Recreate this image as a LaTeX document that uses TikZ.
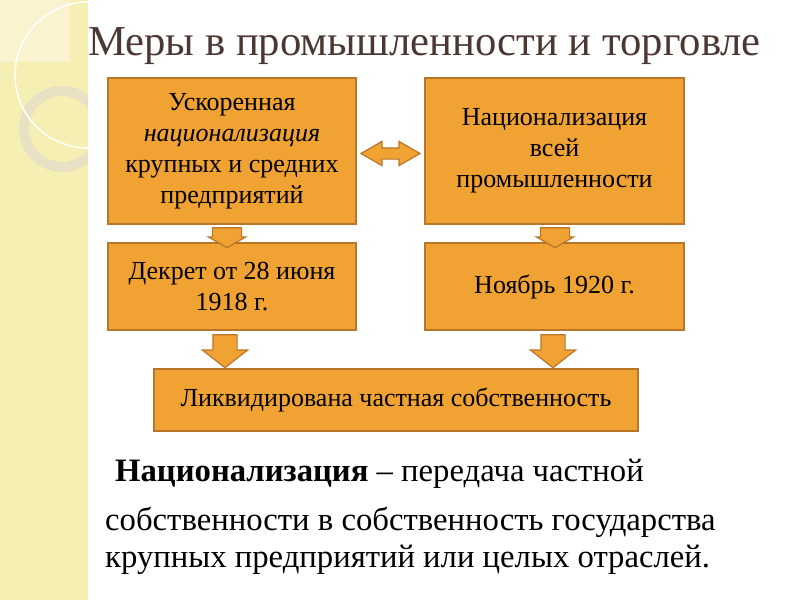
\documentclass[tikz,border=0pt]{standalone}
\usepackage{fontspec}
\setmainfont{Liberation Serif}
\usetikzlibrary{shapes.arrows}
\definecolor{Orng}{HTML}{F0A232}
\definecolor{OrngLine}{HTML}{BA7628}
\definecolor{TitleBrown}{HTML}{4B3832}
\definecolor{Strip}{HTML}{F6EFB4}
\definecolor{StripLight}{HTML}{F9F4CF}
\definecolor{Ring}{HTML}{E8E1C4}

\begin{document}
\begin{tikzpicture}[x=1pt,y=-1pt,
  box/.style={draw=OrngLine,line width=1.4pt,fill=Orng,inner sep=4pt,align=center,
    font=\fontsize{26}{31}\selectfont},
  downarr/.style={single arrow,draw=OrngLine,line width=1.2pt,fill=Orng,inner ysep=0pt,
    shape border rotate=270},
  downsmall/.style={downarr,minimum height=20,inner xsep=14pt,
    single arrow head extend=4,single arrow tip angle=120},
  downbig/.style={downarr,minimum height=33,inner xsep=11.5pt,
    single arrow head extend=10.5,single arrow tip angle=104}]
  \useasboundingbox (0,0) rectangle (800,600);
  % left strip
  \fill[Strip] (0,0) rectangle (88,600);
  \fill[StripLight] (0,0) rectangle (70,62);
  \begin{scope}
    \clip (0,0) rectangle (88,600);
    \draw[Ring,line width=10pt] (62,129) circle[radius=38];
    \draw[white,line width=1.5pt] (88,75) circle[radius=73];
  \end{scope}
  \node[anchor=base west,inner sep=0,text=TitleBrown,font=\fontsize{42.7}{48}\selectfont]
    (title) at (88,55) {Меры в промышленности и торговле};
  % boxes
  \node[box,minimum width=248,minimum height=146] (uskor) at (232,151)
    {Ускоренная\\\textit{национализация}\\крупных и средних\\предприятий};
  \node[box,minimum width=259,minimum height=146] (vsei) at (554.5,151)
    {Национализация\\всей\\промышленности};
  \node[box,minimum width=248,minimum height=87] (dekret) at (232,286.5)
    {Декрет от 28 июня\\1918 г.};
  \node[box,minimum width=259,minimum height=87] (noyabr) at (554.5,286.5)
    {Ноябрь 1920 г.};
  \node[box,minimum width=484,minimum height=62] (likv) at (396,400)
    {Ликвидирована частная собственность};
  % block arrows
  \node[double arrow,draw=OrngLine,line width=1.2pt,fill=Orng,inner xsep=0pt,
    inner ysep=5pt,minimum height=59,double arrow head extend=6.5,
    double arrow tip angle=60] (both) at (390.5,153.5) {};
  \node[downsmall] (arrA) at (227,233.5) {};
  \node[downsmall] (arrB) at (555,233.5) {};
  \node[downbig] (arrC) at (225,346.5) {};
  \node[downbig] (arrD) at (553,346.5) {};
  % definition
  \node[anchor=north west,inner sep=0,align=left,font=\fontsize{32.7}{37}\selectfont]
    (defn) at (105,459)
    {\hspace*{10pt}\textbf{Национализация} – передача частной\\[12pt]
     собственности в собственность государства\\
     крупных предприятий или целых отраслей.};
\end{tikzpicture}
\end{document}
